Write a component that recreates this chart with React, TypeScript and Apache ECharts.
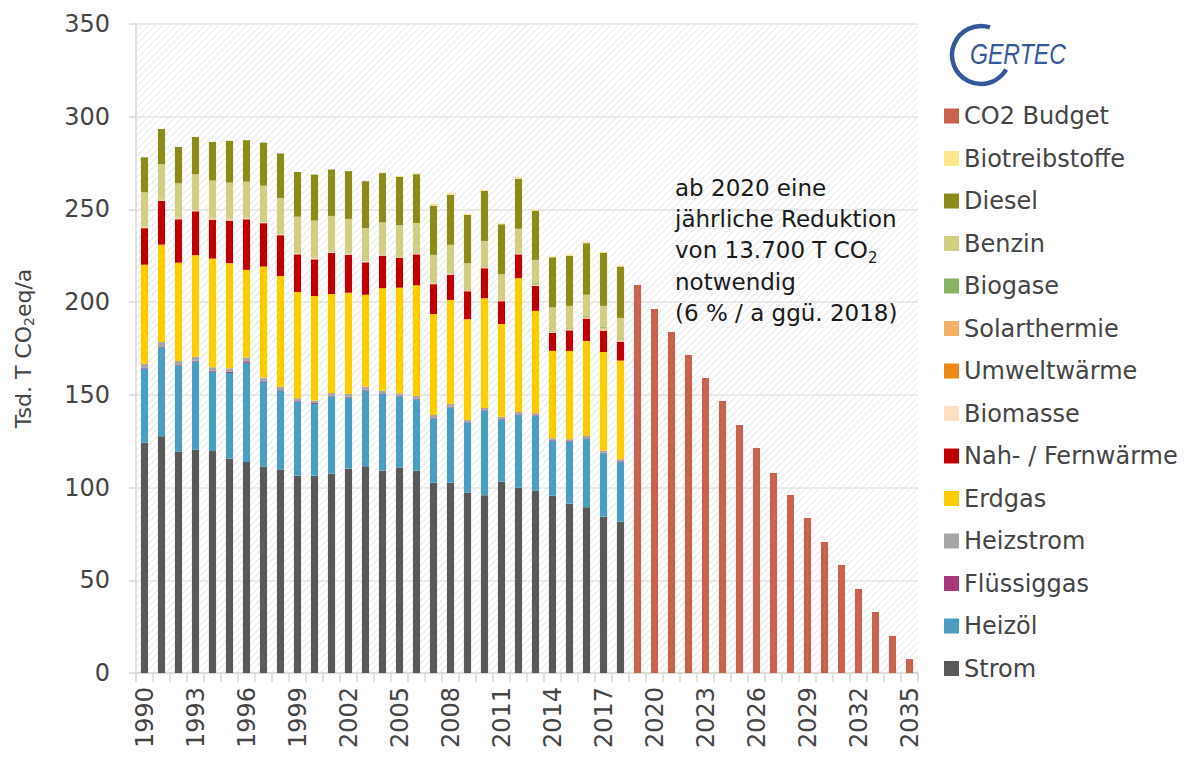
import React, { useEffect, useRef } from "react";
import * as echarts from "echarts";

const years: string[] = Array.from({ length: 46 }, (_, i) => String(1990 + i));

// 1990 .. 2018
const strom = [124.2,127.7,119.4,120.4,119.7,115.6,113.8,111.3,109.7,106.4,106.4,107.5,110.2,111.5,109.1,110.7,109.1,102.6,102.6,97.2,95.8,103.2,99.9,98.3,95.6,91.3,89.4,84.3,81.6];
const heizoel = [40.0,47.8,46.4,47.6,42.8,46.2,53.5,45.9,42.6,40.0,38.7,41.7,38.4,40.9,41.3,38.5,38.5,34.7,40.6,38.0,45.6,33.5,39.3,40.4,29.8,33.5,36.9,34.2,32.3];
const fluessiggas = [0.5,0.3,0.3,0.4,0.5,0.6,0.8,0.3,0.3,0.3,0.5,0.4,0.4,0.4,0.4,0.4,0.4,0.4,0.4,0.3,0.3,0.3,0.3,0.3,0.3,0.3,0.3,0.3,0.3];
const heizstrom = [2.1,2.7,2.2,2.2,1.9,1.9,2.0,1.8,1.8,1.5,1.3,1.4,1.5,1.6,1.5,1.2,1.4,1.5,1.5,1.0,1.2,1.2,1.3,1.1,0.9,1.0,1.2,1.1,1.1];
const erdgas = [53.4,52.5,53.0,54.7,58.6,56.7,47.3,59.9,59.7,57.3,56.4,53.4,54.6,49.6,55.2,57.0,59.7,54.4,56.1,54.3,59.2,50.0,72.1,55.2,47.1,47.6,51.3,53.2,53.2];
const fernwaerme = [19.7,23.7,23.4,23.7,21.0,23.0,27.3,23.4,22.0,20.3,19.8,22.1,20.5,17.5,17.6,16.2,16.7,16.1,13.6,15.1,16.2,12.3,12.9,13.4,9.8,11.1,12.0,11.6,10.2];
const biomasse = [0.5,0.6,0.5,0.6,0.6,0.6,0.6,0.6,0.6,0.6,0.7,0.6,0.6,0.7,0.5,0.5,0.6,0.5,0.6,0.5,0.5,0.5,0.6,0.6,0.4,0.4,0.6,0.7,0.7];
const umweltwaerme = [0.1,0.1,0.1,0.1,0.1,0.1,0.1,0.1,0.1,0.1,0.2,0.1,0.1,0.2,0.1,0.1,0.2,0.1,0.2,0.2,0.2,0.2,0.2,0.3,0.2,0.2,0.3,0.3,0.3];
const solarthermie = [0.1,0.1,0.1,0.2,0.2,0.1,0.2,0.1,0.2,0.2,0.2,0.2,0.2,0.2,0.1,0.1,0.2,0.2,0.2,0.2,0.2,0.2,0.2,0.2,0.2,0.2,0.2,0.3,0.3];
const biogase = [0.1,0.2,0.2,0.2,0.2,0.2,0.2,0.2,0.2,0.2,0.3,0.2,0.2,0.3,0.2,0.2,0.3,0.2,0.3,0.3,0.3,0.2,0.4,0.4,0.3,0.3,0.4,0.5,0.5];
const benzin = [18.6,18.7,18.5,18.9,20.0,19.5,19.2,19.2,19.0,19.2,19.5,18.9,18.2,17.1,17.0,16.6,15.6,14.8,14.8,13.9,13.5,13.4,12.4,12.6,12.6,12.1,11.4,11.5,11.0];
const diesel = [18.8,19.0,19.6,20.1,20.8,22.5,22.3,23.2,24.0,24.1,24.8,25.0,25.7,25.2,26.6,26.1,26.3,26.5,26.9,26.0,27.0,27.0,26.9,26.5,27.0,27.0,27.8,28.6,27.7];
const biotreibstoffe = [0,0,0,0,0,0,0,0,0,0,0,0,0,0,0.3,0.5,0.5,1.0,0.9,0.6,0.5,0.5,0.9,0.6,0.5,0.7,0.5,0.5,0.5];
// 2019 .. 2035
const co2Budget = [209.3,196.3,183.9,171.5,159.1,146.7,133.8,121.4,107.9,96.0,83.6,70.7,58.3,45.3,32.9,20.0,7.5];

const yTicks = [0, 50, 100, 150, 200, 250, 300, 350];

const seriesDefs: { name: string; data: number[]; color: string; budget?: boolean }[] = [
  { name: "Strom", data: strom, color: "#595959" },
  { name: "Heizöl", data: heizoel, color: "#4B9EC0" },
  { name: "Flüssiggas", data: fluessiggas, color: "#A8387A" },
  { name: "Heizstrom", data: heizstrom, color: "#A6A6A6" },
  { name: "Erdgas", data: erdgas, color: "#FFCC00" },
  { name: "Nah- / Fernwärme", data: fernwaerme, color: "#C00000" },
  { name: "Biomasse", data: biomasse, color: "#FBE0C4" },
  { name: "Umweltwärme", data: umweltwaerme, color: "#ED8A17" },
  { name: "Solarthermie", data: solarthermie, color: "#F4B163" },
  { name: "Biogase", data: biogase, color: "#88B366" },
  { name: "Benzin", data: benzin, color: "#D2CF82" },
  { name: "Diesel", data: diesel, color: "#8B8B17" },
  { name: "Biotreibstoffe", data: biotreibstoffe, color: "#FFE68A" },
  { name: "CO2 Budget", data: co2Budget, color: "#C8634F", budget: true },
];

const FONT = "'DejaVu Sans', sans-serif";
const TXT = "#454545";

export default function App() {
  const ref = useRef<HTMLDivElement>(null);
  useEffect(() => {
    const chart = echarts.init(ref.current!, null, { renderer: "svg" });
    const gl = 136, gt = 24, gw = 782, gh = 649;

    const hatch: any[] = [];
    const step = 7;
    for (let c = gl + gt; c <= gl + gw + gt + gh; c += step) {
      const xa = Math.max(gl, c - gt - gh);
      const xb = Math.min(gl + gw, c - gt);
      if (xb <= xa) continue;
      hatch.push({
        type: "line",
        silent: true,
        z: -10,
        shape: { x1: xa, y1: c - xa, x2: xb, y2: c - xb },
        style: { stroke: "#eeeeee", lineWidth: 1.3 },
      });
    }

    const nHist = strom.length;
    const series = seriesDefs.map((d) => {
      const data = d.budget
        ? [...Array(nHist).fill(null), ...d.data]
        : [...d.data, ...Array(years.length - nHist).fill(null)];
      return {
        name: d.name,
        type: "bar",
        stack: "total",
        barWidth: "42%",
        data,
        itemStyle: { color: d.color },
        emphasis: { disabled: true },
      };
    });

    chart.setOption({
      animation: false,
      grid: { left: gl, top: gt, width: gw, height: gh, containLabel: false },
      legend: {
        orient: "vertical",
        left: 939,
        top: 99,
        itemGap: 18.5,
        itemWidth: 15,
        itemHeight: 15,
        icon: "rect",
        selectedMode: false,
        data: seriesDefs.map((d) => d.name).reverse(),
        textStyle: { fontSize: 24, color: TXT, fontFamily: FONT, lineHeight: 24 },
      },
      xAxis: {
        type: "category",
        data: years,
        axisLine: { lineStyle: { color: "#d9d9d9", width: 1.5 } },
        axisTick: { show: true, interval: 0, length: 9, lineStyle: { color: "#d9d9d9", width: 1.5 } },
        axisLabel: { interval: 2, rotate: 90, fontSize: 24, color: TXT, fontFamily: FONT, margin: 14 },
      },
      yAxis: {
        type: "value",
        min: yTicks[0],
        max: yTicks[yTicks.length - 1],
        interval: 50,
        name: "Tsd. T CO{sub|2}eq/a",
        nameLocation: "middle",
        nameGap: 100,
        nameTextStyle: {
          fontSize: 22,
          color: TXT,
          fontFamily: FONT,
          lineHeight: 26,
          rich: { sub: { fontSize: 14, lineHeight: 20, verticalAlign: "bottom", color: TXT, fontFamily: FONT } },
        },
        axisLine: { show: true, lineStyle: { color: "#d9d9d9", width: 1.5 } },
        axisTick: { show: true, length: 7, lineStyle: { color: "#d9d9d9", width: 1.5 } },
        axisLabel: { fontSize: 24, color: TXT, fontFamily: FONT, margin: 26 },
        splitLine: { lineStyle: { color: "#e4e4e4", width: 1.5 } },
      },
      graphic: [
        ...hatch,
        {
          type: "text",
          x: 675,
          y: 172,
          z: 10,
          style: {
            text: "ab 2020 eine\njährliche Reduktion\nvon 13.700 T CO{sub|2}\nnotwendig\n(6 % / a ggü. 2018)",
            fontSize: 23,
            fontFamily: FONT,
            fill: "#1a1a1a",
            lineHeight: 31.3,
            verticalAlign: "top",
            rich: { sub: { fontSize: 15, lineHeight: 20, verticalAlign: "bottom", fill: "#1a1a1a", fontFamily: FONT } },
          },
        },
        {
          type: "arc",
          z: 10,
          shape: { cx: 981, cy: 55, r: 29, startAngle: (30 * Math.PI) / 180, endAngle: (288 * Math.PI) / 180, clockwise: true },
          style: { stroke: "#35589A", lineWidth: 4.5, fill: null },
        },
        {
          type: "text",
          x: 970,
          y: 39,
          scaleX: 0.77,
          z: 10,
          style: {
            text: "GERTEC",
            fontSize: 30,
            fontFamily: "'Liberation Sans', sans-serif",
            fontStyle: "italic",
            fill: "#35589A",
            verticalAlign: "top",
          },
        },
      ],
      series,
    });
    return () => chart.dispose();
  }, []);
  return <div ref={ref} style={{ position: "absolute", left: 0, top: 0, width: 1184, height: 758 }} />;
}
